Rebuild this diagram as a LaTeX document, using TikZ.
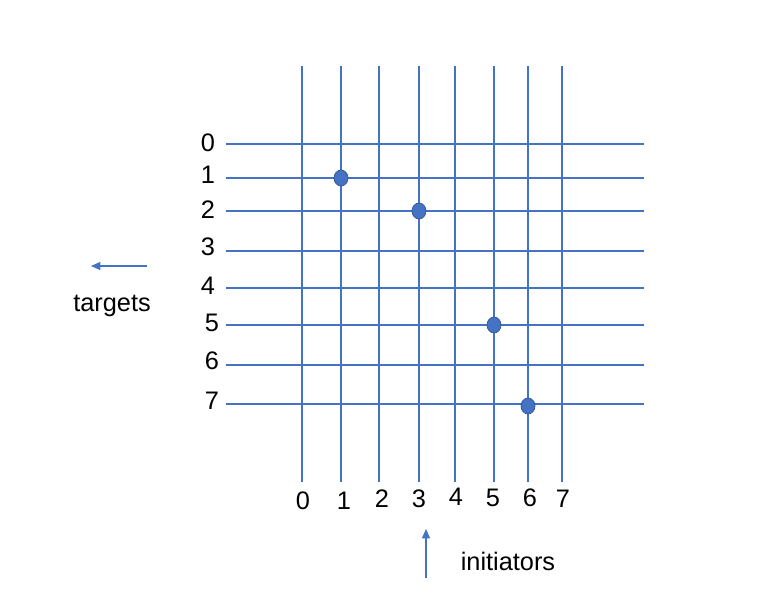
\documentclass[tikz,border=0pt]{standalone}
\usepackage{fontspec}
\setmainfont{Liberation Sans}
\usetikzlibrary{arrows.meta,shapes.geometric}
\definecolor{gblue}{HTML}{4472C4}
\definecolor{dblue}{HTML}{2F528F}
\begin{document}
\begin{tikzpicture}[x=0.75pt,y=-0.75pt,
  gridline/.style={gblue, line width=0.9pt},
  dot/.style={ellipse, fill=gblue, draw=dblue, line width=0.5pt, minimum width=10.5pt, minimum height=12pt, inner sep=0pt},
  lbl/.style={font=\fontsize{19}{22}\selectfont, inner sep=0pt},
  pointer/.style={gblue, line width=0.9pt, -{Triangle[length=7pt,width=6pt]}}]
\useasboundingbox (0,0) rectangle (762,611);
% vertical lines and column labels
\foreach \i/\x in {0/302,1/341,2/379,3/419,4/455,5/494,6/528,7/562}{
  \coordinate (vt\i) at (\x,66);
  \coordinate (vb\i) at (\x,482);
  \draw[gridline] (vt\i) -- (vb\i);
}
\foreach \i/\x/\y in {0/303/501,1/344/501,2/382/499,3/419/499,4/456/497,5/493/498,6/530/498,7/563/499}{
  \node[lbl] (c\i) at (\x,\y) {\i};
}
% horizontal lines and row labels
\foreach \i/\y in {0/144,1/178,2/211,3/251,4/288,5/325,6/365,7/404}{
  \coordinate (hl\i) at (226,\y);
  \coordinate (hr\i) at (644,\y);
  \draw[gridline] (hl\i) -- (hr\i);
}
\foreach \i/\x/\y in {0/208/143,1/208/175,2/208/210,3/208/247,4/208/286,5/212/323,6/212/361,7/212/401}{
  \node[lbl] (r\i) at (\x,\y) {\i};
}
% dots
\node[dot] (d1) at (341,178) {};
\node[dot] (d2) at (419,211) {};
\node[dot] (d3) at (494,325) {};
\node[dot] (d4) at (528,406) {};
% pointers
\coordinate (ta) at (147,266);
\coordinate (tb) at (91,266);
\draw[pointer] (ta) -- (tb);
\node[lbl] (targets) at (112,306) {targets};
\coordinate (ia) at (426,578);
\coordinate (ib) at (426,529);
\draw[pointer] (ia) -- (ib);
\node[lbl] (initiators) at (508,561) {initiators};
\end{tikzpicture}
\end{document}
